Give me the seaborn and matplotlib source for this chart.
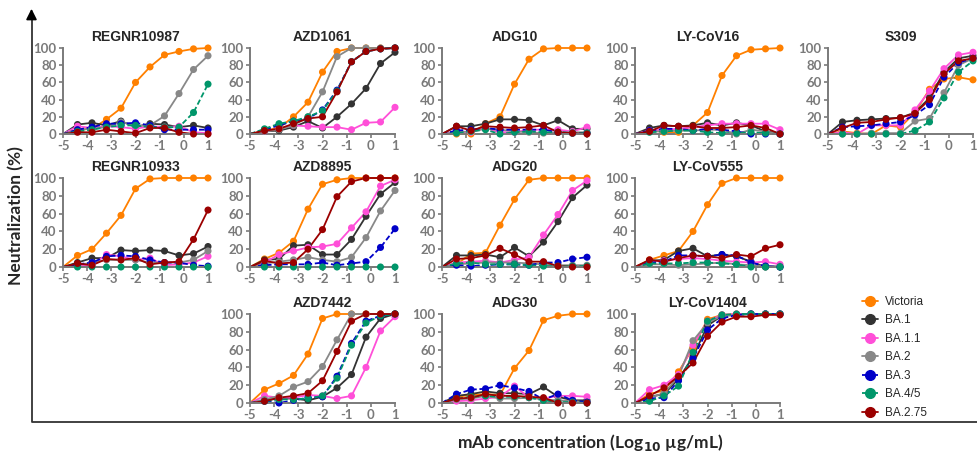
#!/usr/bin/env python3
import numpy as np
import pandas as pd
import seaborn as sns
import matplotlib.pyplot as plt
from matplotlib.lines import Line2D

# log10 mAb concentration; first point is the curve origin (no marker)
CONC = [-5.0, -4.4, -3.8, -3.2, -2.6, -2.0, -1.4, -0.8, -0.2, 0.4, 1.0]

VARIANTS = ["Victoria", "BA.1", "BA.1.1", "BA.2", "BA.3", "BA.4/5", "BA.2.75"]
DASHED = ["BA.3", "BA.4/5"]

REGNR10987 = {
    "Victoria": [5, 6, 17, 30, 60, 78, 92, 96, 99, 100],
    "BA.1":     [11, 13, 10, 15, 8, 12, 11, 8, 10, 7],
    "BA.1.1":   [9, 7, 9, 8, 6, 9, 8, 9, 2, 1],
    "BA.2":     [5, 6, 8, 14, 10, 10, 21, 47, 75, 91],
    "BA.3":     [5, 8, 12, 12, 13, 10, 5, 5, 5, 5],
    "BA.4/5":   [3, 5, 8, 10, 10, 8, 8, 8, 25, 58],
    "BA.2.75":  [2, 2, 5, 3, 1, 7, 7, 2, 0, 0],
}
AZD1061 = {
    "Victoria": [4, 7, 20, 37, 72, 96, 100, 100, 100, 100],
    "BA.1":     [3, 4, 8, 15, 7, 20, 35, 53, 82, 95],
    "BA.1.1":   [3, 6, 10, 9, 8, 8, 5, 13, 14, 31],
    "BA.2":     [3, 5, 10, 20, 49, 90, 100, 100, 100, 100],
    "BA.3":     [5, 10, 15, 18, 28, 51, 84, 96, 99, 100],
    "BA.4/5":   [6, 12, 15, 20, 27, 50, 84, 96, 99, 100],
    "BA.2.75":  [4, 6, 12, 18, 20, 49, 84, 96, 99, 100],
}
ADG10 = {
    "Victoria": [0, 0, 12, 20, 58, 87, 99, 100, 100, 100],
    "BA.1":     [9, 9, 12, 17, 17, 16, 10, 16, 6, 6],
    "BA.1.1":   [3, 2, 7, 2, 2, 5, 5, 5, 3, 8],
    "BA.2":     [2, 3, 6, 5, 3, 2, 1, 2, 2, 2],
    "BA.3":     [4, 5, 7, 5, 5, 5, 5, 2, 1, 1],
    "BA.4/5":   [1, 3, 5, 0, 2, 3, 2, 2, 1, 1],
    "BA.2.75":  [9, 4, 9, 8, 7, 8, 10, 2, 1, 0],
}
LY_CoV16 = {
    "Victoria": [5, 2, 2, 10, 25, 68, 91, 98, 99, 100],
    "BA.1":     [7, 10, 9, 10, 13, 10, 13, 10, 3, 1],
    "BA.1.1":   [4, 5, 6, 8, 10, 12, 12, 12, 12, 5],
    "BA.2":     [3, 3, 4, 4, 5, 5, 0, 5, 3, 0],
    "BA.3":     [4, 6, 6, 4, 6, 5, 3, 0, 0, 0],
    "BA.4/5":   [2, 3, 4, 4, 2, 1, 1, 2, 1, 0],
    "BA.2.75":  [3, 10, 9, 9, 7, 7, 8, 10, 7, 0],
}
S309 = {
    "Victoria": [3, 1, 0, 10, 8, 25, 52, 64, 66, 63],
    "BA.1":     [14, 16, 17, 18, 19, 25, 42, 72, 88, 91],
    "BA.1.1":   [2, 0, 10, 10, 10, 28, 50, 76, 92, 95],
    "BA.2":     [0, 0, 1, 1, 1, 15, 18, 48, 80, 88],
    "BA.3":     [8, 9, 10, 12, 14, 22, 34, 66, 83, 88],
    "BA.4/5":   [0, 0, 0, 0, 0, 4, 14, 42, 72, 85],
    "BA.2.75":  [7, 13, 14, 17, 19, 24, 40, 70, 85, 88],
}
REGNR10933 = {
    "Victoria": [13, 20, 38, 58, 88, 99, 100, 100, 100, 100],
    "BA.1":     [5, 10, 10, 19, 18, 19, 18, 13, 15, 23],
    "BA.1.1":   [1, 2, 14, 12, 8, 10, 2, 3, 5, 12],
    "BA.2":     [2, 5, 8, 8, 8, 5, 5, 5, 8, 18],
    "BA.3":     [3, 5, 12, 13, 12, 8, 5, 5, 2, 1],
    "BA.4/5":   [0, 0, 0, 0, 0, 0, 0, 0, 0, 0],
    "BA.2.75":  [4, 2, 9, 8, 10, 3, 5, 6, 31, 64],
}
AZD8895 = {
    "Victoria": [9, 16, 29, 65, 93, 98, 100, 100, 100, 100],
    "BA.1":     [8, 9, 24, 25, 14, 14, 31, 57, 82, 95],
    "BA.1.1":   [5, 14, 18, 22, 23, 26, 44, 62, 91, 98],
    "BA.2":     [4, 6, 8, 11, 8, 6, 11, 33, 63, 86],
    "BA.3":     [2, 3, 3, 3, 5, 2, 4, 6, 22, 43],
    "BA.4/5":   [0, 0, 0, 0, 0, 0, 0, 0, 0, 0],
    "BA.2.75":  [7, 4, 5, 20, 42, 79, 96, 100, 100, 100],
}
ADG20 = {
    "Victoria": [3, 15, 16, 47, 76, 98, 100, 100, 100, 100],
    "BA.1":     [13, 13, 14, 11, 22, 12, 28, 51, 78, 92],
    "BA.1.1":   [5, 6, 7, 5, 8, 11, 36, 59, 86, 97],
    "BA.2":     [3, 4, 5, 5, 5, 4, 3, 2, 2, 2],
    "BA.3":     [2, 1, 2, 3, 3, 2, 5, 5, 9, 11],
    "BA.4/5":   [4, 5, 3, 3, 3, 2, 1, 1, 1, 1],
    "BA.2.75":  [9, 10, 13, 21, 14, 6, 6, 1, 0, 0],
}
LY_CoV555 = {
    "Victoria": [8, 13, 18, 40, 70, 94, 100, 100, 100, 100],
    "BA.1":     [7, 8, 18, 21, 12, 14, 12, 6, 0, 0],
    "BA.1.1":   [6, 7, 9, 10, 9, 7, 6, 5, 6, 3],
    "BA.2":     [3, 3, 2, 3, 4, 5, 3, 2, 1, 1],
    "BA.3":     [5, 6, 13, 13, 12, 14, 13, 5, 1, 0],
    "BA.4/5":   [4, 4, 4, 5, 5, 4, 3, 0, 0, 0],
    "BA.2.75":  [8, 6, 10, 13, 12, 10, 14, 12, 21, 25],
}
AZD7442 = {
    "Victoria": [15, 22, 31, 55, 95, 100, 100, 100, 100, 100],
    "BA.1":     [3, 5, 5, 3, 7, 17, 32, 74, 95, 100],
    "BA.1.1":   [8, 6, 6, 9, 8, 5, 8, 40, 81, 97],
    "BA.2":     [4, 8, 18, 24, 41, 71, 100, 100, 100, 100],
    "BA.3":     [2, 0, 3, 6, 7, 30, 67, 92, 98, 100],
    "BA.4/5":   [2, 4, 4, 5, 8, 28, 65, 90, 98, 100],
    "BA.2.75":  [2, 6, 8, 11, 25, 58, 92, 100, 100, 100],
}
ADG30 = {
    "Victoria": [7, 9, 10, 9, 39, 59, 93, 98, 100, 100],
    "BA.1":     [8, 10, 13, 11, 11, 10, 18, 7, 3, 3],
    "BA.1.1":   [2, 3, 5, 7, 19, 6, 5, 8, 8, 7],
    "BA.2":     [4, 5, 8, 5, 5, 6, 4, 3, 2, 1],
    "BA.3":     [10, 15, 16, 20, 17, 13, 4, 10, 3, 1],
    "BA.4/5":   [5, 7, 8, 7, 7, 6, 3, 1, 1, 0],
    "BA.2.75":  [5, 6, 10, 8, 8, 7, 6, 0, 0, 0],
}
LY_CoV1404 = {
    "Victoria": [10, 14, 35, 62, 94, 99, 100, 100, 100, 100],
    "BA.1":     [7, 10, 27, 52, 87, 98, 99, 100, 100, 100],
    "BA.1.1":   [15, 20, 32, 65, 92, 99, 100, 100, 100, 100],
    "BA.2":     [6, 11, 30, 70, 90, 98, 99, 100, 100, 100],
    "BA.3":     [5, 6, 25, 50, 82, 95, 99, 100, 100, 100],
    "BA.4/5":   [2, 8, 19, 57, 92, 99, 100, 100, 100, 100],
    "BA.2.75":  [8, 17, 30, 45, 75, 91, 97, 97, 99, 99],
}

# (title, data, row, col)
PANELS = [
    ("REGNR10987", REGNR10987, 0, 0),
    ("AZD1061", AZD1061, 0, 1),
    ("ADG10", ADG10, 0, 2),
    ("LY-CoV16", LY_CoV16, 0, 3),
    ("S309", S309, 0, 4),
    ("REGNR10933", REGNR10933, 1, 0),
    ("AZD8895", AZD8895, 1, 1),
    ("ADG20", ADG20, 1, 2),
    ("LY-CoV555", LY_CoV555, 1, 3),
    ("AZD7442", AZD7442, 2, 1),
    ("ADG30", ADG30, 2, 2),
    ("LY-CoV1404", LY_CoV1404, 2, 3),
]

COLORS = {
    "Victoria": "#ff8000",
    "BA.1": "#333333",
    "BA.1.1": "#ff4fd8",
    "BA.2": "#888888",
    "BA.3": "#0000c8",
    "BA.4/5": "#00966a",
    "BA.2.75": "#9b0000",
}
AXIS_GREY = "#7a7a7a"

W, H = 977, 458
COL_LEFT = [63, 250, 442, 635, 828]
COL_W = 145
ROW_TB = [(48, 134), (178, 267), (314, 403)]


def to_long(data):
    rows = []
    for v in VARIANTS:
        vals = [0] + data[v]
        for i, (x, y) in enumerate(zip(CONC, vals)):
            rows.append({"variant": v, "conc": x, "neut": y, "first": i == 0})
    return pd.DataFrame(rows)


def draw_panel(ax, title, data):
    df = to_long(data)
    dashes = {v: (3, 1.5) if v in DASHED else "" for v in VARIANTS}
    sns.lineplot(data=df, x="conc", y="neut", hue="variant", style="variant",
                 hue_order=VARIANTS, style_order=VARIANTS, palette=COLORS,
                 dashes=dashes, markers=False, linewidth=1.3, legend=False,
                 ax=ax, clip_on=False)
    pts = df[~df["first"]]
    sns.scatterplot(data=pts, x="conc", y="neut", hue="variant",
                    hue_order=VARIANTS, palette=COLORS, s=26, linewidth=0,
                    legend=False, ax=ax, clip_on=False, zorder=3)
    ax.set_xlim(-5, 1)
    ax.set_ylim(0, 100)
    ax.set_xticks(np.arange(-5, 2, 1))
    ax.set_yticks(np.arange(0, 101, 20))
    ax.set_xlabel("")
    ax.set_ylabel("")
    ax.set_title(title, fontsize=10, fontweight="bold", family="Liberation Sans", pad=5)
    for s in ["top", "right"]:
        ax.spines[s].set_visible(False)
    for s in ["left", "bottom"]:
        ax.spines[s].set_color(AXIS_GREY)
        ax.spines[s].set_linewidth(1.4)
    ax.tick_params(colors=AXIS_GREY, length=3, width=1.2, pad=1.5, labelsize=9.5)
    for lab in ax.get_xticklabels() + ax.get_yticklabels():
        lab.set_fontweight("bold")
        lab.set_color(AXIS_GREY)


def main():
    sns.set_style("ticks")
    plt.rcParams["font.family"] = ["Lato", "DejaVu Sans"]
    plt.rcParams["axes.unicode_minus"] = False
    fig = plt.figure(figsize=(W / 100, H / 100), dpi=100)

    for title, data, r, c in PANELS:
        top, bot = ROW_TB[r]
        ax = fig.add_axes([COL_LEFT[c] / W, 1 - bot / H, COL_W / W, (bot - top) / H])
        draw_panel(ax, title, data)

    # outer axes with arrow
    frame = fig.add_axes([0, 0, 1, 1], facecolor="none")
    frame.set_xlim(0, W)
    frame.set_ylim(H, 0)
    frame.axis("off")
    frame.plot([31.5, 31.5, W], [15, 422, 422], color="#333333", lw=1.3)
    frame.annotate("", xy=(31.5, 6), xytext=(31.5, 17),
                   arrowprops=dict(arrowstyle="-|>", color="black", lw=1.2,
                                   mutation_scale=16))
    fig.text(0.017, 0.53, "Neutralization (%)", rotation=90, ha="center", va="center",
             fontsize=12.5, fontweight="bold")
    fig.text(0.604, 0.033, "mAb concentration (Log$_{\\mathbf{10}}$ µg/mL)",
             ha="center", va="center", fontsize=12.5, fontweight="bold")

    handles = [Line2D([0], [0], color=COLORS[v], marker="o", markersize=7, lw=1.3,
                      linestyle="--" if v in DASHED else "-") for v in VARIANTS]
    fig.legend(handles, VARIANTS, loc="upper left", bbox_to_anchor=(857 / W, 1 - 291 / H),
               frameon=False, handlelength=1.4, handletextpad=0.6, labelspacing=0.55,
               prop={"family": "Liberation Sans", "size": 8.5}, borderaxespad=0)

    fig.savefig("out.png", dpi=100)
    plt.close(fig)


if __name__ == "__main__":
    main()
